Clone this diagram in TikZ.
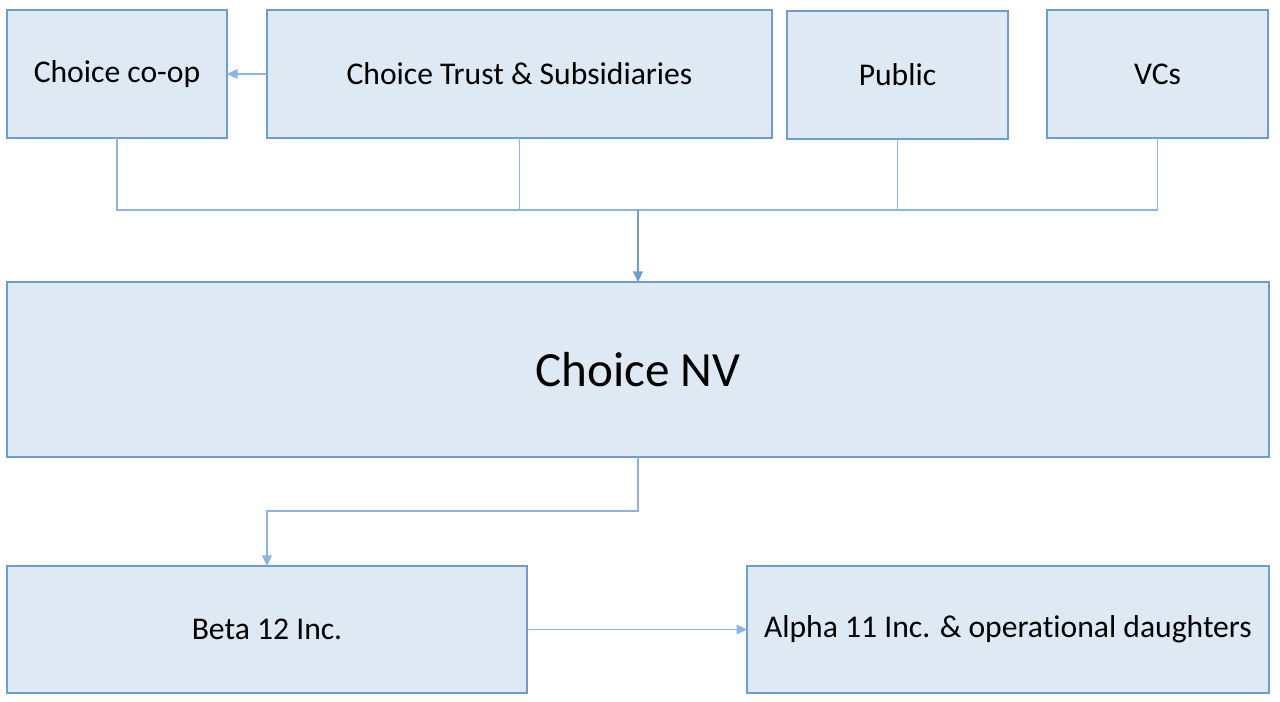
\documentclass[tikz,border=0pt]{standalone}
\usepackage{fontspec}
\setmainfont{Carlito}[Ligatures={NoCommon}]
\usetikzlibrary{arrows.meta,positioning}
\definecolor{boxfill}{HTML}{DFE9F4}
\definecolor{boxline}{HTML}{6E9BD2}
\definecolor{linkline}{HTML}{8DB3E2}
\tikzset{font=\fontsize{18}{22}\selectfont}
\tikzset{entity/.style={draw=boxline, fill=boxfill, line width=0.9pt,
    inner sep=0pt, outer sep=0pt, align=center}}
\tikzset{link/.style={draw=linkline, line width=0.7pt}}
\tikzset{owns/.style={link, -{Triangle[length=6pt,width=5.5pt]}}}

\begin{document}
\begin{tikzpicture}[x=0.02cm, y=-0.02cm]
\useasboundingbox (0,0) rectangle (1280,702);
% shareholders
\node[entity, minimum width=4.4cm, minimum height=2.56cm] (coop) at (117,74) {Choice co-op};
\node[entity, minimum width=10.1cm, minimum height=2.56cm] (trust) at (519.5,74) {Choice Trust \& Subsidiaries};
\node[entity, minimum width=4.42cm, minimum height=2.56cm] (public) at (897.5,75) {Public};
\node[entity, minimum width=4.42cm, minimum height=2.56cm] (vcs) at (1157.5,74) {VCs};
% holding
\node[entity, minimum width=25.24cm, minimum height=3.5cm,
  font=\fontsize{28}{34}\selectfont] (nv) at (638,369.5) {Choice NV};
% subsidiaries
\node[entity, minimum width=10.4cm, minimum height=2.54cm] (beta) at (267,629.5) {Beta 12 Inc.};
\node[entity, minimum width=10.44cm, minimum height=2.54cm] (alpha) at (1008,629.5) {Alpha 11 Inc. \& operational daughters};

\coordinate (bus) at (638,210);
\coordinate (split) at (638,511);

\draw[owns] (trust.west) -- (coop.east);
\foreach \n in {coop,trust,public,vcs}
  \draw[link] (\n.south) |- (bus);
\draw[owns, line width=0.9pt, draw=boxline] (bus) -- (nv.north);
\draw[owns] (nv.south) -- (split) -| (beta.north);
\draw[owns] (beta.east) -- (alpha.west);
\end{tikzpicture}
\end{document}
